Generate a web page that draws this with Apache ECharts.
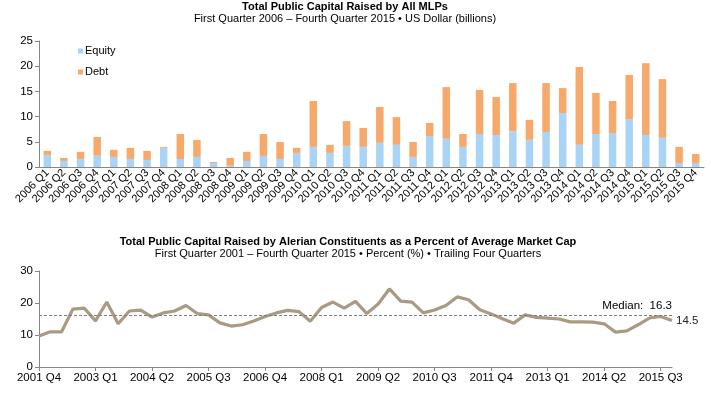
<!DOCTYPE html>
<html><head><meta charset="utf-8">
<script src="https://cdn.jsdelivr.net/npm/echarts@6/dist/echarts.min.js"></script>
<style>html,body{margin:0;padding:0;background:#fff}#c{width:711px;height:394px}</style>
</head><body><div id="c"></div>
<script>
const quarters = [];
for (let y = 2006; y <= 2015; y++) for (let q = 1; q <= 4; q++) quarters.push(y + ' Q' + q);

const equity = [2.4,1.2,1.6,2.25,2.0,1.6,1.4,3.8,1.6,2.0,0.8,0.26,
  1.2,2.2,1.6,2.8,4.0,2.8,4.2,4.0,4.8,4.4,2.0,6.15,5.6,4.0,
  6.55,6.35,7.1,5.4,6.95,10.7,4.4,6.55,6.75,9.5,6.35,5.8,0.8,0.8];
const total = [3.2,1.8,3.0,5.95,3.4,3.8,3.2,4.0,6.55,5.35,1.0,1.8,
  3.0,6.55,4.95,3.8,13.1,4.4,9.1,7.75,11.9,9.9,4.95,8.75,15.85,6.55,
  15.3,13.9,16.65,9.35,16.65,15.65,19.85,14.7,13.1,18.25,20.6,17.45,4.0,2.6];
const debt = total.map((t, i) => +(t - equity[i]).toFixed(2));

const quarters2 = [];
for (let y = 2001; y <= 2015; y++) for (let q = 1; q <= 4; q++) if (!(y === 2001 && q < 4)) quarters2.push(y + ' Q' + q);
const pctCap = [9.7,11.0,11.0,18.1,18.4,14.4,20.3,13.5,17.5,17.8,15.6,16.9,17.5,19.2,16.7,16.3,
  13.8,12.8,13.2,14.4,15.8,16.9,17.7,17.3,14.3,18.6,20.3,18.4,20.5,16.7,19.7,24.4,20.6,20.3,
  16.9,17.8,19.2,21.9,21.0,17.9,16.6,15.1,13.7,16.3,15.5,15.3,15.0,14.1,14.1,14.0,13.5,10.9,
  11.3,13.2,15.3,15.8,14.5];
const medianVal = 16.3;

const FONT = '"Liberation Sans", Arial, sans-serif';
const chart = echarts.init(document.getElementById('c'));
const axisLine = {lineStyle: {color: '#868686', width: 1}};
chart.setOption({
  animation: false,
  textStyle: {fontFamily: FONT, color: '#000'},
  title: [
    {text: 'Total Public Capital Raised by All MLPs',
     subtext: 'First Quarter 2006 \u2013 Fourth Quarter 2015 \u2022 US Dollar (billions)',
     left: 345, textAlign: 'center', top: 1, padding: 0, itemGap: 1,
     textStyle: {fontSize: 11, fontWeight: 'bold', color: '#000', fontFamily: FONT},
     subtextStyle: {fontSize: 11, color: '#000', fontFamily: FONT}},
    {text: 'Total Public Capital Raised by Alerian Constituents as a Percent of Average Market Cap',
     subtext: 'First Quarter 2001 \u2013 Fourth Quarter 2015 \u2022 Percent (%) \u2022 Trailing Four Quarters',
     left: 348, textAlign: 'center', top: 236, padding: 0, itemGap: 1,
     textStyle: {fontSize: 11, fontWeight: 'bold', color: '#000', fontFamily: FONT},
     subtextStyle: {fontSize: 11, color: '#000', fontFamily: FONT}}
  ],
  legend: {
    data: ['Equity', 'Debt'], orient: 'vertical', left: 78, top: 45, itemGap: 9, padding: 0,
    itemWidth: 5, itemHeight: 5, icon: 'rect',
    textStyle: {fontSize: 11, fontFamily: FONT, color: '#000', padding: [0, 0, 0, -3], lineHeight: 12}
  },
  grid: [
    {left: 39, right: 7, top: 41, height: 126},
    {left: 39, right: 39, top: 271, height: 96}
  ],
  xAxis: [
    {type: 'category', gridIndex: 0, data: quarters, axisLine: axisLine,
     axisTick: {show: false},
     axisLabel: {rotate: 45, fontSize: 11, fontFamily: FONT, color: '#000', interval: 0, margin: 4}},
    {type: 'category', gridIndex: 1, data: quarters2, boundaryGap: false, axisLine: axisLine,
     axisTick: {interval: 4, length: 4, lineStyle: {color: '#868686'}},
     axisLabel: {interval: 4, fontSize: 11.5, fontFamily: FONT, color: '#000', margin: 5}}
  ],
  yAxis: [
    {type: 'value', gridIndex: 0, min: 0, max: 25, interval: 5, splitLine: {show: false},
     axisLine: {show: true, lineStyle: {color: '#868686'}},
     axisTick: {show: true, length: 4, lineStyle: {color: '#868686'}},
     axisLabel: {fontSize: 11.5, fontFamily: FONT, color: '#000', margin: 6}},
    {type: 'value', gridIndex: 1, min: 0, max: 30, interval: 10, splitLine: {show: false},
     axisLine: {show: true, lineStyle: {color: '#868686'}},
     axisTick: {show: true, length: 4, lineStyle: {color: '#868686'}},
     axisLabel: {fontSize: 11.5, fontFamily: FONT, color: '#000', margin: 6}}
  ],
  series: [
    {name: 'Equity', type: 'bar', stack: 'a', xAxisIndex: 0, yAxisIndex: 0, data: equity,
     barWidth: 7.5, itemStyle: {color: '#a9d4f5'}},
    {name: 'Debt', type: 'bar', stack: 'a', xAxisIndex: 0, yAxisIndex: 0, data: debt,
     barWidth: 7.5, itemStyle: {color: '#f6a96b'}},
    {name: 'Pct', type: 'line', xAxisIndex: 1, yAxisIndex: 1, data: pctCap,
     symbol: 'none', lineStyle: {color: '#a89a83', width: 3.2},
     endLabel: {show: true, formatter: '{c}', fontSize: 11.5, fontFamily: FONT, color: '#222', distance: 4},
     markLine: {silent: true, symbol: 'none',
       lineStyle: {type: [3, 2], color: '#7f7f7f', width: 1},
       label: {position: 'insideEndTop', formatter: 'Median:  ' + medianVal, fontSize: 11.5,
               fontFamily: FONT, color: '#000', distance: [0, 3]},
       data: [{yAxis: medianVal}]}}
  ]
});
</script></body></html>
